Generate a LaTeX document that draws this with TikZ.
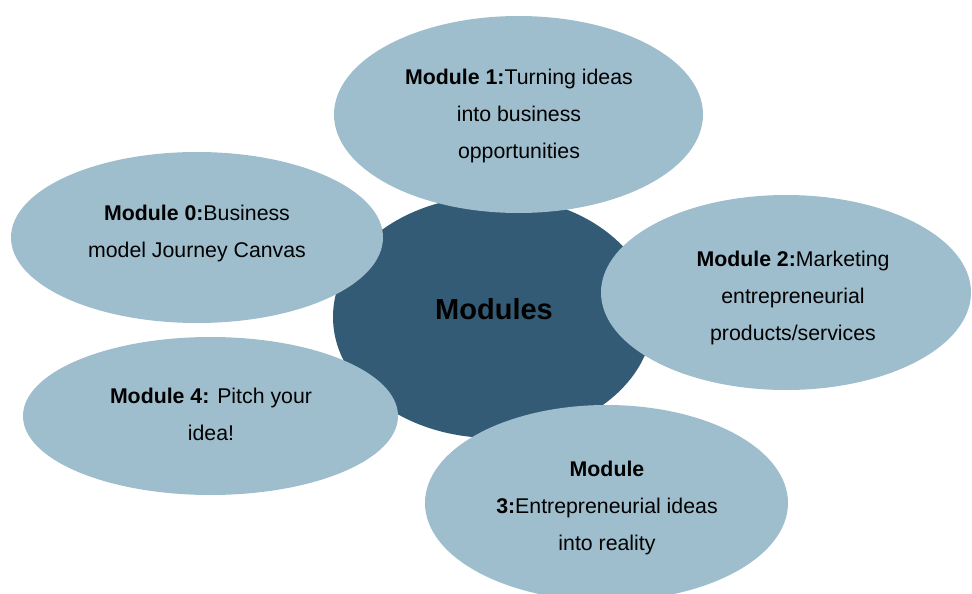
\documentclass[tikz,border=0pt]{standalone}
\usepackage{fontspec}
\setmainfont{Liberation Sans}
\usepackage{xcolor}
\usepackage{tikz}
\usetikzlibrary{shapes.geometric}
\definecolor{hubblue}{HTML}{335B75}
\definecolor{petalblue}{HTML}{9EBECD}
\newcommand{\modname}[1]{\textbf{#1}}

\begin{document}
\begin{tikzpicture}[
    x=1pt, y=-1pt,
    every node/.style={font=\fontsize{21.3}{37}\selectfont},
    hub/.style={ellipse, fill=hubblue, inner sep=0pt},
    petal/.style={ellipse, fill=petalblue, inner sep=0pt},
    modtext/.style={align=center, inner sep=0pt},
    hubtext/.style={inner sep=0pt, font=\fontsize{29}{34}\selectfont\bfseries}
]
\clip (0,0) rectangle (972,594);

% centre disc
\node[hub, minimum width=320pt, minimum height=242pt] (hub) at (493,317) {};

% the five modules around it
\node[petal, minimum width=369pt, minimum height=197pt] (mod1) at (518.5,114.5) {};
\node[petal, minimum width=372pt, minimum height=171pt] (mod0) at (197,237.5) {};
\node[petal, minimum width=370pt, minimum height=195pt] (mod2) at (786,292.5) {};
\node[petal, minimum width=375pt, minimum height=158pt] (mod4) at (210.5,416) {};
\node[petal, minimum width=363pt, minimum height=196pt] (mod3) at (606.5,503) {};

% texts
\node[hubtext] (hublabel) at (494,309) {Modules};
\node[modtext] (mod1label) at (519,116)
    {\modname{Module 1:}Turning ideas\\into business\\opportunities};
\node[modtext] (mod0label) at (197,233.5)
    {\modname{Module 0:}Business\\model Journey Canvas};
\node[modtext] (mod2label) at (793,298)
    {\modname{Module 2:}Marketing\\entrepreneurial\\products/services};
\node[modtext] (mod4label) at (211,414)
    {\modname{Module 4:} Pitch your\\idea!};
\node[modtext] (mod3label) at (607,508)
    {\modname{Module}\\\modname{3:}Entrepreneurial ideas\\into reality};

\end{tikzpicture}
\end{document}
